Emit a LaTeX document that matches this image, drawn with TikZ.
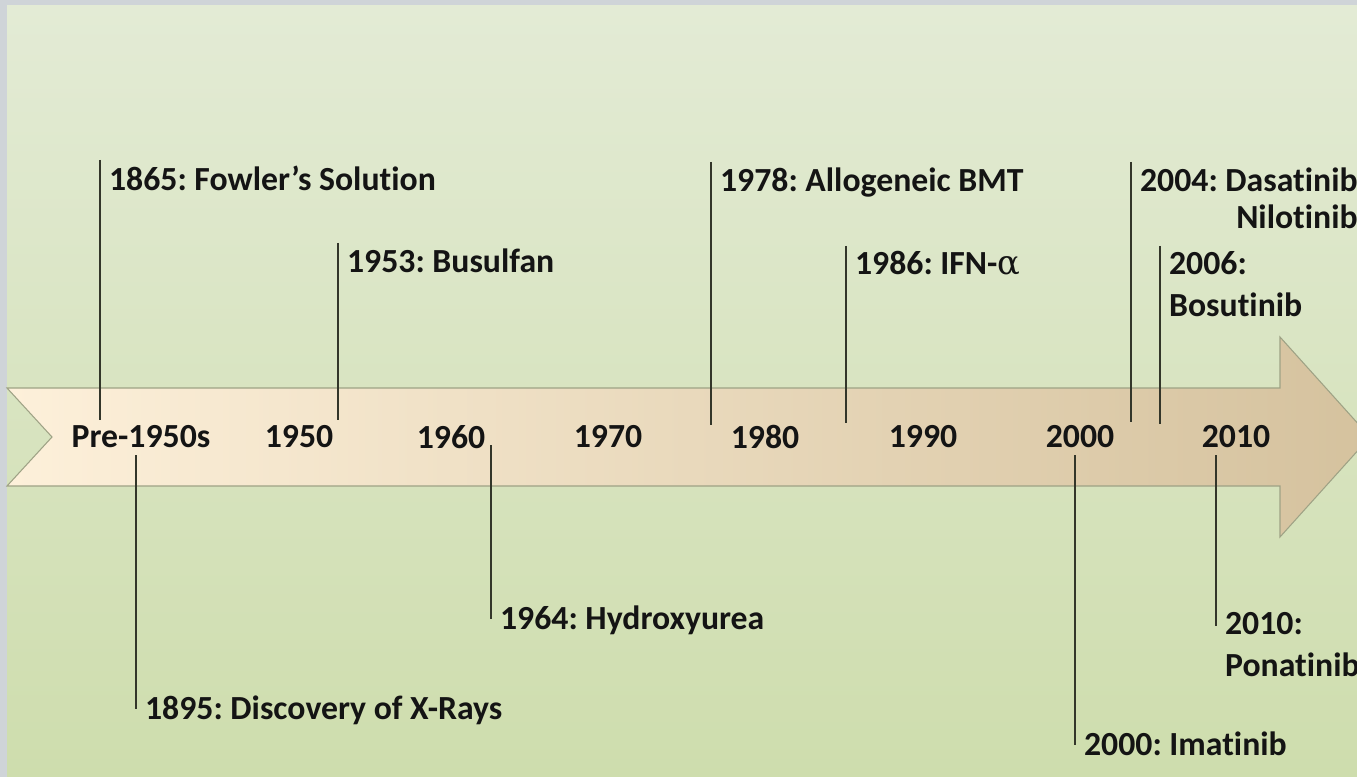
\documentclass[tikz,border=0pt]{standalone}
\usepackage{fontspec}
\setmainfont{Carlito}[Ligatures=NoCommon,Contextuals=NoAlternate]
\frenchspacing
\definecolor{frame}{HTML}{CFD4D8}
\definecolor{paneltop}{HTML}{E3EBD5}
\definecolor{panelbot}{HTML}{CEDDAD}
\definecolor{arrowl}{HTML}{FDF0DA}
\definecolor{arrowr}{HTML}{D5C29E}
\definecolor{arrowedge}{HTML}{9EA285}
\definecolor{stemcol}{HTML}{33362A}
\begin{document}
\begin{tikzpicture}[x=0.02cm,y=-0.02cm,
    evt/.style={anchor=north west,inner xsep=5pt,inner ysep=3pt,align=left,
      text=black!92,font=\fontsize{19.2}{24}\selectfont\bfseries},
    yr/.style={text=black!92,font=\fontsize{19.2}{24}\selectfont\bfseries},
    stem/.style={draw=stemcol,line width=0.7pt}]
    % Background
    \useasboundingbox (0,0) rectangle (1357,777);
    \clip (0,0) rectangle (1357,777);
    \fill[frame] (0,0) rectangle (1357,777);
    \fill[top color=paneltop,bottom color=panelbot] (7,6) rectangle (1357,777);
    % Draw arrow
    \draw[arrowedge,line width=0.6pt,left color=arrowl,right color=arrowr]
        (7,388) -- (1280,388) -- (1280,337) -- (1370,437) -- (1280,537)
        -- (1280,486) -- (7,486) -- (52,437) -- cycle;
    % Decades
    \node[yr] (pre) at (141,437) {Pre-1950s};
    \node[yr] (d1950) at (299,437) {1950};
    \node[yr] (d1960) at (451,437) {1960};
    \node[yr] (d1970) at (608,437) {1970};
    \node[yr] (d1980) at (765,437) {1980};
    \node[yr] (d1990) at (923,437) {1990};
    \node[yr] (d2000) at (1080,437) {2000};
    \node[yr] (d2010) at (1236,437) {2010};
    % Events above
    \node[evt] (e1865) at (100,160) {1865: Fowler’s Solution};
    \node[evt] (e1953) at (338,243) {1953: Busulfan};
    \node[evt] (e1978) at (711,162) {1978: Allogeneic BMT};
    \node[evt] (e1986) at (846,246) {1986: IFN-{\fontspec{DejaVu Serif}\mdseries α}};
    \node[evt,align=right] (e2004) at (1131,162) {2004: Dasatinib\\[-3pt]Nilotinib};
    \node[evt] (e2006) at (1160,246) {2006:\\Bosutinib};
    \coordinate (s1865) at (100,420);
    \coordinate (s1953) at (338,420);
    \coordinate (s1978) at (711,425);
    \coordinate (s1986) at (846,423);
    \coordinate (s2004) at (1131,422);
    \coordinate (s2006) at (1160,424);
    \draw[stem] (e1865.north west) -- (s1865);
    \draw[stem] (e1953.north west) -- (s1953);
    \draw[stem] (e1978.north west) -- (s1978);
    \draw[stem] (e1986.north west) -- (s1986);
    \draw[stem] (e2004.north west) -- (s2004);
    \draw[stem] (e2006.north west) -- (s2006);
    % Events below
    \node[evt] (e1895) at (136,690) {1895: Discovery of X-Rays};
    \node[evt] (e1964) at (491,600) {1964: Hydroxyurea};
    \node[evt] (e2000) at (1075,726) {2000: Imatinib};
    \node[evt] (e2010) at (1216,607) {2010:\\Ponatinib};
    \coordinate (s1895) at (136,455);
    \coordinate (s1964) at (491,445);
    \coordinate (s2000) at (1075,455);
    \coordinate (s2010) at (1216,455);
    \draw[stem] (s1895) -- ([yshift=-11pt]e1895.north west);
    \draw[stem] (s1964) -- ([yshift=-11pt]e1964.north west);
    \draw[stem] (s2000) -- ([yshift=-11pt]e2000.north west);
    \draw[stem] (s2010) -- ([yshift=-11pt]e2010.north west);
\end{tikzpicture}
\end{document}
